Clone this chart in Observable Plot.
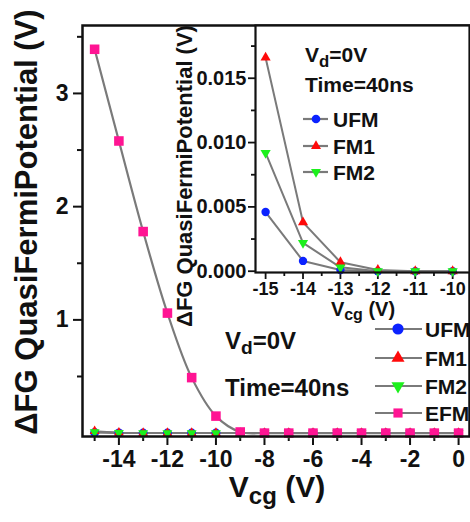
<!DOCTYPE html>
<html><head><meta charset="utf-8">
<script src="https://cdn.jsdelivr.net/npm/d3@7"></script>
<script src="https://cdn.jsdelivr.net/npm/@observablehq/plot@0.6"></script>
<style>
body{margin:0;background:#fff;}
#wrap{position:relative;width:470px;height:522px;overflow:hidden;}
#wrap svg{position:absolute;top:0;}
</style></head><body><div id="wrap"></div>
<script>
// ---- data ----
const vcg = [-15,-14,-13,-12,-11,-10,-9,-8,-7,-6,-5,-4,-3,-2,-1,0];
const ufm = [0.0046,0.0008,0.0001,0,0,0,0,0,0,0,0,0,0,0,0,0];
const fm1 = [0.0166,0.0038,0.0007,0.0001,0,0,0,0,0,0,0,0,0,0,0,0];
const fm2 = [0.0092,0.0022,0.0003,0,0,0,0,0,0,0,0,0,0,0,0,0];
const efm = [3.39,2.58,1.78,1.06,0.49,0.15,0.01,0,0,0,0,0,0,0,0,0];
const seriesNames = ["UFM","FM1","FM2","EFM"];
const seriesColors = ["#0b22ff","#ff0a0a","#1cf01c","#ff1493"];

const mainXTicks = [-14,-12,-10,-8,-6,-4,-2,0];
const mainXMinor = [-15,-13,-11,-9,-7,-5,-3,-1];
const mainYTicks = [1,2,3];
const mainYMinor = [0.5,1.5,2.5,3.5];
const insetXTicks = [-15,-14,-13,-12,-11,-10];
const insetXMinor = [-14.5,-13.5,-12.5,-11.5,-10.5];
const insetYTicks = [0,0.005,0.010,0.015];
const insetYMinor = [0.0025,0.0075,0.0125,0.0175];

// ---- build tables ----
const tbl = (vals) => vcg.map((x,i)=>({x, y: vals[i]}));
const T = {UFM: tbl(ufm), FM1: tbl(fm1), FM2: tbl(fm2), EFM: tbl(efm)};
const font = '"Liberation Sans", Arial, sans-serif';
const lineGray = "#7a7a7a";
const ink = "#111";

function dots(data, name, r) {
  const c = seriesColors[seriesNames.indexOf(name)];
  const o = {x:"x", y:"y", fill:c, stroke:"none", r};
  if (name==="UFM") return Plot.dot(data, {...o, symbol:"circle"});
  if (name==="FM1") return Plot.dot(data, {...o, symbol:"triangle", r:r*0.82});
  if (name==="FM2") return Plot.dot(data, {...o, symbol:"triangle", rotate:180, r:r*0.82});
  return Plot.dot(data, {...o, symbol:"square", r:r*0.98});
}

// ---- main plot ----
const main = Plot.plot({
  width:470, height:522, marginLeft:82, marginTop:25, marginRight:1, marginBottom:86,
  x:{domain:[-15.5,0.45], label:null},
  y:{domain:[-0.03,3.6], label:null},
  style:{fontFamily:font, fontWeight:"bold", background:"transparent", color:ink},
  marks:[
    Plot.axisX({ticks:mainXMinor, tickSize:5, tickFormat:()=>"", strokeWidth:2, stroke:ink, label:null}),
    Plot.axisX({ticks:mainXTicks, tickSize:9, tickPadding:5, tickFormat:d=>String(d), strokeWidth:2, stroke:ink, fontSize:23, fill:ink, label:null}),
    Plot.axisY({ticks:mainYMinor, tickSize:5, tickFormat:()=>"", strokeWidth:2, stroke:ink, label:null}),
    Plot.axisY({ticks:mainYTicks, tickSize:9, tickPadding:5, tickFormat:d=>String(d), strokeWidth:2, stroke:ink, fontSize:23, fill:ink, label:null}),
    Plot.line(T.UFM, {x:"x", y:"y", stroke:lineGray, strokeWidth:2}),
    Plot.line(T.FM1, {x:"x", y:"y", stroke:lineGray, strokeWidth:2}),
    Plot.line(T.FM2, {x:"x", y:"y", stroke:lineGray, strokeWidth:2}),
    Plot.line(T.EFM, {x:"x", y:"y", stroke:lineGray, strokeWidth:2.2, curve:"catmull-rom"}),
    dots(T.UFM,"UFM",4.5),
    dots(T.FM1,"FM1",4.5),
    dots(T.FM2,"FM2",4.5),
    dots(T.EFM,"EFM",5.5),
    Plot.frame({stroke:ink, strokeWidth:2.5})
  ]
});
main.style.left = "0px";
document.getElementById("wrap").appendChild(main);

// ---- inset plot ----
const insetRows = (name) => T[name].filter(d => d.x <= -10);
const inset = Plot.plot({
  width:295, height:330, marginLeft:80, marginTop:25, marginRight:1, marginBottom:58,
  x:{domain:[-15.27,-9.55], label:null},
  y:{domain:[-0.0001,0.0191], label:null},
  style:{fontFamily:font, fontWeight:"bold", background:"transparent", color:ink, overflow:"visible"},
  marks:[
    Plot.frame({fill:"white", stroke:"none"}),
    Plot.axisX({ticks:insetXMinor, tickSize:4, tickFormat:()=>"", strokeWidth:1.8, stroke:ink, label:null}),
    Plot.axisX({ticks:insetXTicks, tickSize:7, tickPadding:3, tickFormat:d=>String(d), strokeWidth:1.8, stroke:ink, fontSize:18, fill:ink, label:null}),
    Plot.axisY({ticks:insetYMinor, tickSize:4, tickFormat:()=>"", strokeWidth:1.8, stroke:ink, label:null}),
    Plot.axisY({ticks:insetYTicks, tickSize:7, tickPadding:2, tickFormat:d3.format(".3f"), strokeWidth:1.8, stroke:ink, fontSize:20, fill:ink, label:null}),
    Plot.line(insetRows("UFM"), {x:"x", y:"y", stroke:lineGray, strokeWidth:2}),
    Plot.line(insetRows("FM1"), {x:"x", y:"y", stroke:lineGray, strokeWidth:2}),
    Plot.line(insetRows("FM2"), {x:"x", y:"y", stroke:lineGray, strokeWidth:2}),
    dots(insetRows("UFM"),"UFM",4.2),
    dots(insetRows("FM1"),"FM1",4.6),
    dots(insetRows("FM2"),"FM2",4.6),
    Plot.frame({stroke:ink, strokeWidth:2.2})
  ]
});
inset.style.left = "175px";
document.getElementById("wrap").appendChild(inset);

// ---- overlay: labels, annotations, legends ----
const ov = d3.select("#wrap").append("svg")
  .attr("width",470).attr("height",522).style("left","0px")
  .attr("font-family",font).attr("font-weight","bold").attr("fill",ink);

function subText(x, y, size, parts, anchor) {
  const t = ov.append("text").attr("x",x).attr("y",y).attr("font-size",size).attr("text-anchor",anchor||"start");
  parts.forEach(p => {
    const s = t.append("tspan").text(p.t);
    if (p.sub) s.attr("font-size", size*0.8).attr("dy", size*0.22);
    if (p.up) s.attr("dy", -size*0.22);
  });
  return t;
}
// axis titles
ov.append("text").attr("transform","translate(37,222) rotate(-90)").attr("text-anchor","middle")
  .attr("font-size",31).text("ΔFG QuasiFermiPotential (V)");
ov.append("text").attr("transform","translate(192,176) rotate(-90)").attr("text-anchor","middle")
  .attr("font-size",22).text("ΔFG QuasiFermiPotential (V)");
subText(277, 497, 30, [{t:"V"},{t:"cg",sub:true},{t:" (V)",up:true}], "middle");
subText(363, 316, 20, [{t:"V"},{t:"cg",sub:true},{t:" (V)",up:true}], "middle");
// annotations
subText(225, 349, 24, [{t:"V"},{t:"d",sub:true},{t:"=0V",up:true}]);
subText(225, 396, 24, [{t:"Time=40ns"}]);
subText(305, 62, 21, [{t:"V"},{t:"d",sub:true},{t:"=0V",up:true}]);
subText(305, 92, 21, [{t:"Time=40ns"}]);

function legend(items, x0, x1, xm, xl, ys, size, fs) {
  items.forEach((name, i) => {
    const y = ys[i];
    const c = seriesColors[seriesNames.indexOf(name)];
    ov.append("line").attr("x1",x0).attr("x2",x1).attr("y1",y).attr("y2",y).attr("stroke",lineGray).attr("stroke-width",2.2);
    let type = d3.symbolCircle, rot = 0, area = size*size*Math.PI;
    if (name==="FM1") { type = d3.symbolTriangle; area *= 0.75; }
    if (name==="FM2") { type = d3.symbolTriangle; rot = 180; area *= 0.75; }
    if (name==="EFM") { type = d3.symbolSquare; area *= 0.85; }
    ov.append("path").attr("d", d3.symbol(type, area)())
      .attr("transform",`translate(${xm},${y}) rotate(${rot})`).attr("fill",c);
    ov.append("text").attr("x",xl).attr("y",y+7.5).attr("font-size",fs).text(name);
  });
}
legend(["UFM","FM1","FM2","EFM"], 375, 422, 398, 425, [329,358,386,413], 5.6, 21);
legend(["UFM","FM1","FM2"], 303, 328, 316, 333, [119,146,172], 4.3, 21);
</script></body></html>
